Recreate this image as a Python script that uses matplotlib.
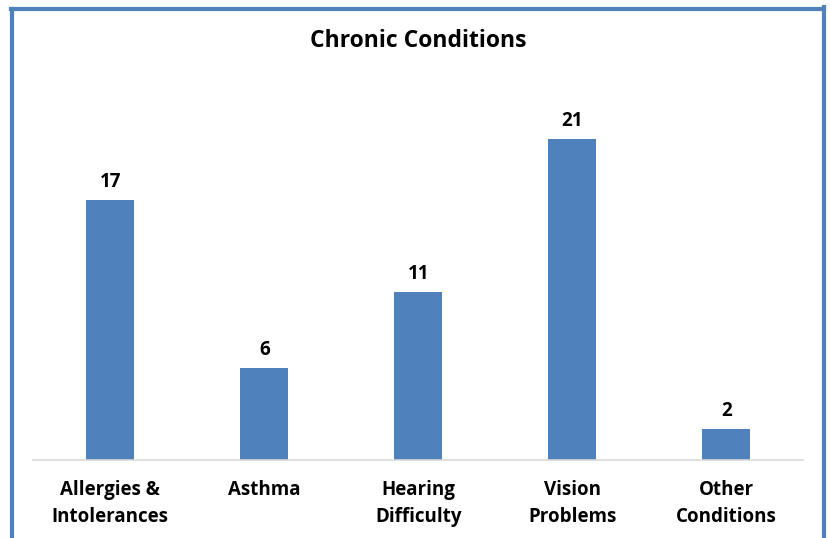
import matplotlib.pyplot as plt
from matplotlib.lines import Line2D

categories = ['Allergies &\nIntolerances', 'Asthma', 'Hearing\nDifficulty', 'Vision\nProblems', 'Other\nConditions']
counts = [17, 6, 11, 21, 2]

W, H = 830, 538
fig = plt.figure(figsize=(W / 100, H / 100), dpi=100)
ax = fig.add_axes([33.3 / W, (H - 459.5) / H, 770 / W, 381 / H])

x = range(len(categories))
bars = ax.bar(x, counts, width=0.314, color='#4F81BD')
ax.set_xlim(-0.5, len(categories) - 0.5)
ax.set_ylim(0, 25)

font = dict(family='Open Sans', fontweight='bold', fontsize=13.5, color='black')
for b, v in zip(bars, counts):
    ax.annotate(str(v), (b.get_x() + b.get_width() / 2, v), xytext=(0, 6),
                textcoords='offset points', ha='center', va='bottom', **font)

ax.set_xticks(list(x))
ax.set_xticklabels(categories, linespacing=1.45, **font)
ax.tick_params(axis='x', length=0, pad=15)
ax.set_yticks([])
for s in ['top', 'right', 'left']:
    ax.spines[s].set_visible(False)
ax.spines['bottom'].set_color('#D9D9D9')
ax.spines['bottom'].set_linewidth(1.2)

fig.text(418 / W, 1 - 41 / H, 'Chronic Conditions', ha='center', va='center',
         **{**font, 'fontsize': 16.5})

# blue frame (open at the bottom)
blue = '#4F81BD'
fig.add_artist(Line2D([12 / W, 12 / W], [0, 1 - 8.5 / H], color=blue, lw=3))
fig.add_artist(Line2D([10.5 / W, 824 / W], [1 - 8.5 / H, 1 - 8.5 / H], color=blue, lw=3))
fig.add_artist(Line2D([824 / W, 824 / W], [0, 1 - 7 / H], color=blue, lw=3))

fig.savefig('out.png', dpi=100)
